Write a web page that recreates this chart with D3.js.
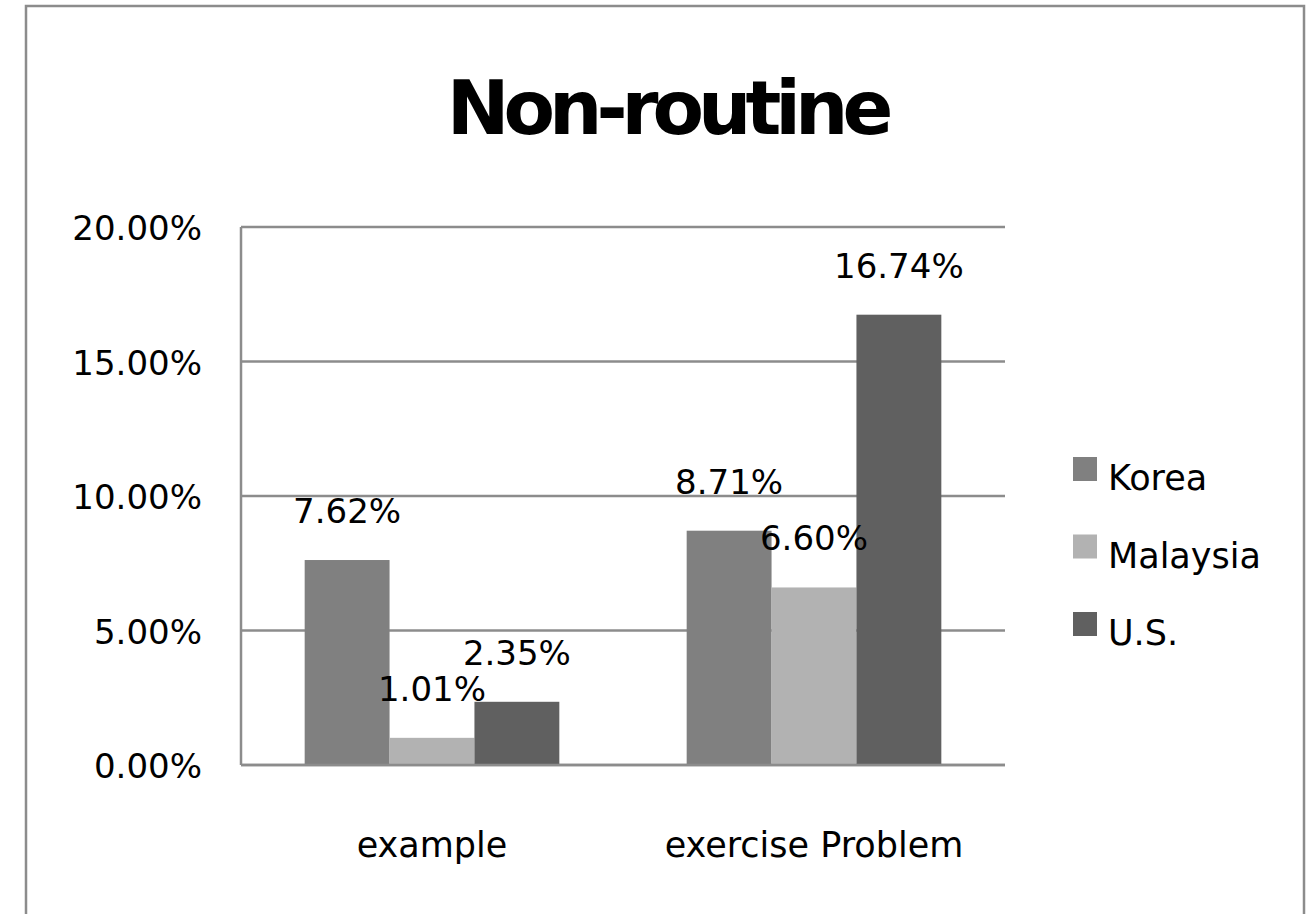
<!DOCTYPE html>
<html>
<head>
<meta charset="utf-8">
<script src="https://cdn.jsdelivr.net/npm/d3@7"></script>
<style>
  body { margin: 0; background: #fff; }
  svg { display: block; font-family: "DejaVu Sans", sans-serif; }
</style>
</head>
<body>
<div id="chart"></div>
<script>
(function() {
    const width = 1313;
    const height = 914;

    const categories = ["example", "exercise Problem"];
    const seriesNames = ["Korea", "Malaysia", "U.S."];
    const korea = [7.62, 8.71];
    const malaysia = [1.01, 6.60];
    const us = [2.35, 16.74];
    const yTicks = [0, 5, 10, 15, 20];
    const colors = ["#808080", "#b2b2b2", "#606060"];

    const seriesValues = [korea, malaysia, us];
    const plot = { left: 241, right: 1005, top: 227, bottom: 765 };

    const svg = d3.select("#chart").append("svg")
        .attr("width", width).attr("height", height);

    // cadre
    svg.append("rect")
        .attr("x", 26).attr("y", 6)
        .attr("width", 1278).attr("height", 940)
        .attr("fill", "#fff").attr("stroke", "#8c8c8c").attr("stroke-width", 2.5);

    svg.append("text")
        .attr("x", 667).attr("y", 134)
        .attr("text-anchor", "middle")
        .attr("font-size", "75px").attr("font-weight", "bold")
        .attr("letter-spacing", "-6px")
        .text("Non-routine");

    const x = d3.scaleBand().domain(categories).range([plot.left, plot.right]);
    const xs = d3.scaleBand().domain(seriesNames)
        .range([0, x.bandwidth()]).paddingOuter(0.75).paddingInner(0);
    const y = d3.scaleLinear().domain([0, 20]).range([plot.bottom, plot.top]);

    // grille
    svg.append("g").selectAll("line")
        .data(yTicks)
        .join("line")
        .attr("x1", plot.left).attr("x2", plot.right)
        .attr("y1", d => y(d)).attr("y2", d => y(d))
        .attr("stroke", "#8c8c8c").attr("stroke-width", 2.5);

    svg.append("line")
        .attr("x1", plot.left).attr("x2", plot.left)
        .attr("y1", plot.top).attr("y2", plot.bottom)
        .attr("stroke", "#8c8c8c").attr("stroke-width", 2.5);

    svg.append("g").selectAll("text")
        .data(yTicks)
        .join("text")
        .attr("x", 202).attr("y", d => y(d) + 13)
        .attr("text-anchor", "end")
        .attr("font-size", "34px")
        .text(d => d.toFixed(2) + "%");

    const bars = [];
    seriesNames.forEach((s, i) => {
        categories.forEach((c, j) => bars.push({ s, c, v: seriesValues[i][j], color: colors[i] }));
    });

    svg.append("g").selectAll("rect")
        .data(bars)
        .join("rect")
        .attr("x", d => x(d.c) + xs(d.s))
        .attr("y", d => y(d.v))
        .attr("width", xs.bandwidth())
        .attr("height", d => y(0) - y(d.v))
        .attr("fill", d => d.color);

    // ligne de base par-dessus les barres
    svg.append("line")
        .attr("x1", plot.left).attr("x2", plot.right)
        .attr("y1", y(0)).attr("y2", y(0))
        .attr("stroke", "#8c8c8c").attr("stroke-width", 2.5);

    svg.append("g").selectAll("text")
        .data(bars)
        .join("text")
        .attr("x", d => x(d.c) + xs(d.s) + xs.bandwidth() / 2)
        .attr("y", d => y(d.v) - 37)
        .attr("text-anchor", "middle")
        .attr("font-size", "34px")
        .text(d => d.v.toFixed(2) + "%");

    svg.append("g").selectAll("text")
        .data(categories)
        .join("text")
        .attr("x", d => x(d) + x.bandwidth() / 2)
        .attr("y", 857)
        .attr("text-anchor", "middle")
        .attr("font-size", "35px")
        .text(d => d);

    const legend = svg.append("g").selectAll("g")
        .data(seriesNames)
        .join("g")
        .attr("transform", (d, i) => `translate(1073, ${457 + i * 77.5})`);
    legend.append("rect")
        .attr("width", 24).attr("height", 24)
        .attr("fill", (d, i) => colors[i]);
    legend.append("text")
        .attr("x", 35).attr("y", 33)
        .attr("font-size", "35px")
        .text(d => d);
})();
</script>
</body>
</html>
